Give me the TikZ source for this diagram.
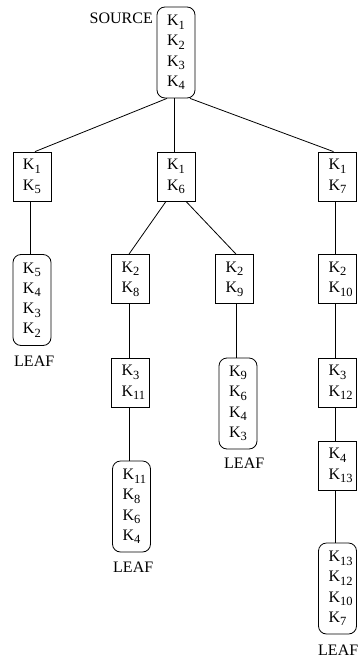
\documentclass[tikz,border=0pt]{standalone}
\usepackage{fontspec}
\setmainfont{Liberation Serif}
% key with a lowered numeric index
\newcommand{\Kx}[1]{K\raisebox{-3.5pt}{\fontsize{12.5}{12.5}\selectfont #1}}
\begin{document}
\begin{tikzpicture}[x=1pt,y=-1pt,
  every node/.style={font=\fontsize{16}{20.3}\selectfont},
  keybox/.style={draw, line width=0.8pt, align=left, text width=18pt,
    inner xsep=10pt, inner ysep=0pt, minimum width=38pt},
  pairbox/.style={keybox, minimum height=49pt},
  leafbox/.style={keybox, rounded corners=8pt, minimum height=91pt},
  lbl/.style={inner sep=0pt},
  edge/.style={line width=0.8pt}
]
\useasboundingbox (0,0) rectangle (360,664);

% root
\node[leafbox] (src) at (176,52.5) {\Kx{1}\\\Kx{2}\\\Kx{3}\\\Kx{4}};
\node[lbl, anchor=base east] (srclbl) at (153,23) {SOURCE};

% first level
\node[pairbox] (a) at (32,176.5) {\Kx{1}\\\Kx{5}};
\node[pairbox] (b) at (176,176.5) {\Kx{1}\\\Kx{6}};
\node[pairbox] (c) at (337.5,176.5) {\Kx{1}\\\Kx{7}};

% left branch
\node[leafbox] (a1) at (32,300) {\Kx{5}\\\Kx{4}\\\Kx{3}\\\Kx{2}};
\node[lbl, anchor=base west] (a1lbl) at (14,366) {LEAF};

% middle branch
\node[pairbox] (b1) at (130.5,279) {\Kx{2}\\\Kx{8}};
\node[pairbox] (b2) at (234.5,279) {\Kx{2}\\\Kx{9}};
\node[pairbox] (b11) at (130.5,382.5) {\Kx{3}\\\Kx{11}};
\node[leafbox] (b21) at (238,403.5) {\Kx{9}\\\Kx{6}\\\Kx{4}\\\Kx{3}};
\node[lbl, anchor=base west] (b21lbl) at (224,468) {LEAF};
\node[leafbox] (b111) at (131.5,506.5) {\Kx{11}\\\Kx{8}\\\Kx{6}\\\Kx{4}};
\node[lbl, anchor=base west] (b111lbl) at (113,572) {LEAF};

% right branch
\node[pairbox] (c1) at (337.5,279) {\Kx{2}\\\Kx{10}};
\node[pairbox] (c11) at (337.5,382.5) {\Kx{3}\\\Kx{12}};
\node[pairbox] (c111) at (337.5,465.5) {\Kx{4}\\\Kx{13}};
\node[leafbox] (c1111) at (337.5,588.5) {\Kx{13}\\\Kx{12}\\\Kx{10}\\\Kx{7}};
\node[lbl, anchor=base west] (c1111lbl) at (318,655) {LEAF};

% connectors
\draw[edge] ([xshift=-9pt]src.south) -- ([xshift=3pt]a.north);
\draw[edge] ([xshift=-2pt]src.south) -- ([xshift=-2pt]b.north);
\draw[edge] ([xshift=14pt]src.south) -- ([xshift=-4pt]c.north);

\draw[edge] ([xshift=-2pt]a.south) -- ([xshift=-2pt]a1.north);

\draw[edge] ([xshift=-10pt]b.south) -- ([xshift=-1.5pt]b1.north);
\draw[edge] ([xshift=10pt]b.south) -- ([xshift=1.5pt]b2.north);
\draw[edge] ([xshift=-1.5pt]b1.south) -- ([xshift=-1.5pt]b11.north);
\draw[edge] ([xshift=-1.5pt]b11.south) -- ([xshift=-2.5pt]b111.north);
\draw[edge] ([xshift=1.5pt]b2.south) -- ([xshift=-2pt]b21.north);

\draw[edge] ([xshift=-2.5pt]c.south) -- ([xshift=-2.5pt]c1.north);
\draw[edge] ([xshift=-2.5pt]c1.south) -- ([xshift=-2.5pt]c11.north);
\draw[edge] ([xshift=-2.5pt]c11.south) -- ([xshift=-2.5pt]c111.north);
\draw[edge] ([xshift=-2.5pt]c111.south) -- ([xshift=-2.5pt]c1111.north);
\end{tikzpicture}
\end{document}
